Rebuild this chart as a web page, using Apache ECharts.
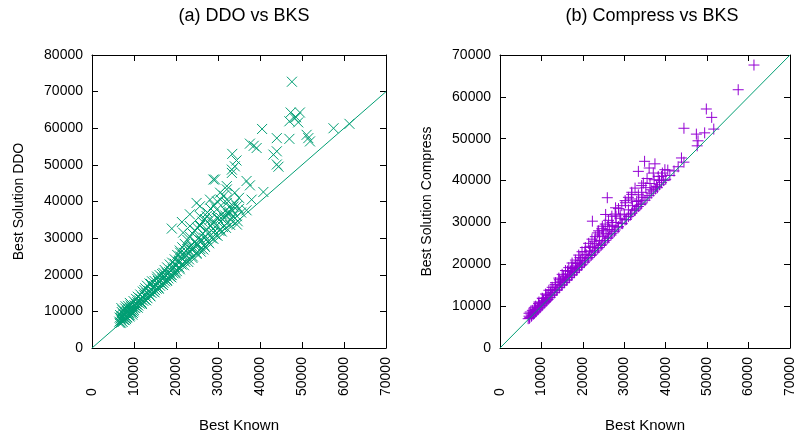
<!DOCTYPE html>
<html>
<head>
<meta charset="utf-8">
<script src="https://cdn.jsdelivr.net/npm/echarts@6/dist/echarts.min.js"></script>
<style>
  html, body { margin: 0; padding: 0; background: #fff; }
  #chart { width: 797px; height: 438px; }
</style>
</head>
<body>
<div id="chart"></div>
<script>
// Best known solution (thousands) vs DDO result (thousands)
const ddoPoints = [
  [6.5,7.2],[6.8,8.0],[7.0,7.5],[7.2,8.6],[7.4,7.8],[7.5,9.2],[7.7,8.3],[7.8,7.6],[8.0,9.6],[8.1,8.7],
  [8.3,10.1],[8.4,8.4],[8.5,9.1],[8.7,10.5],[8.8,9.5],[9.0,8.9],[9.1,10.8],[9.2,9.9],[9.4,11.2],[9.5,10.3],
  [9.7,9.6],[9.8,11.0],[10.0,10.4],[10.1,11.7],[10.3,10.9],[6.9,6.9],[7.6,7.7],[8.2,8.2],[8.9,9.0],[9.6,9.7],
  [10.4,12.1],[10.6,11.2],[10.8,12.5],[11.0,11.6],[11.2,13.0],[11.4,12.1],[11.6,13.5],[11.8,12.4],[12.0,13.9],
  [12.2,12.9],[12.4,14.4],[12.6,13.2],[12.8,14.0],[13.0,15.0],[13.2,13.6],[13.4,14.8],[13.6,15.6],[13.8,14.3],
  [14.0,16.0],[14.2,15.0],[14.4,16.5],[14.6,15.4],[14.8,16.9],[15.0,15.8],[15.2,17.2],[15.4,16.2],[15.6,17.6],
  [15.8,16.5],[16.0,18.0],[16.2,17.0],[16.4,18.4],[16.6,17.4],[16.8,18.8],[17.0,17.8],[17.2,19.3],[17.4,18.2],
  [17.6,19.8],[17.8,18.6],[18.0,20.2],[18.2,19.0],[18.4,20.7],[18.6,19.5],[18.8,21.2],[19.0,19.9],[19.2,21.6],
  [19.4,20.4],[19.6,22.0],[19.8,20.8],[20.0,22.5],[12.5,15.8],[14.0,17.5],[15.5,18.9],[17.0,20.5],
  [20.2,21.0],[20.5,23.5],[20.8,22.0],[21.0,25.0],[21.3,22.8],[21.6,24.2],[21.9,26.0],[22.2,23.5],[22.5,25.3],
  [22.8,27.0],[23.1,24.2],[23.4,26.2],[23.7,28.0],[24.0,25.0],[24.3,27.2],[24.6,29.0],[24.9,26.0],[25.2,28.2],
  [25.5,30.2],[25.8,27.0],[26.1,29.3],[26.4,31.2],[26.7,28.0],[27.0,30.5],[27.3,32.4],[27.6,29.0],[27.9,31.5],
  [28.2,33.5],[28.5,30.0],[28.8,32.5],[29.1,34.5],[29.4,31.0],[29.7,33.5],[30.0,35.5],[30.3,32.0],[30.6,34.5],
  [30.9,36.5],[31.2,33.0],[31.5,35.5],[31.8,37.5],[32.1,34.0],[32.4,36.5],[32.7,38.5],[33.0,35.0],[33.5,37.5],
  [34.0,39.5],[34.5,36.0],[35.0,38.0],[35.5,37.0],
  [6.6,8.3],[6.7,9.0],[7.1,9.8],[7.3,10.3],[7.9,10.8],[8.6,11.5],[9.3,12.0],[7.0,10.9],[8.0,11.4],[9.0,12.3],
  [9.9,12.8],[10.5,13.4],[10.9,14.0],[11.5,14.6],[12.1,15.4],[12.7,16.3],[13.1,17.0],[13.7,17.6],[14.3,18.2],
  [14.9,18.3],[15.5,19.5],[16.1,19.9],[16.7,20.2],[17.3,21.3],[17.9,22.0],[18.5,22.8],[19.1,23.3],[19.7,24.2],
  [20.3,25.4],[20.9,26.6],[21.5,27.5],[22.1,28.4],[22.7,29.5],[23.3,30.4],[23.9,31.3],[24.5,32.1],[25.1,32.8],
  [25.7,33.6],[26.3,34.5],[26.9,35.2],[27.5,37.0],[28.3,38.0],[29.0,39.0],[29.8,40.0],[30.6,40.5],[31.4,41.6],
  [10.9,11.0],[11.9,12.0],[12.9,13.0],[13.9,14.1],[14.9,15.2],[15.9,16.2],[16.9,17.2],[17.9,18.3],[18.9,19.3],
  [19.9,20.4],[20.9,21.5],[21.9,22.6],[22.9,23.5],[23.9,24.6],[24.9,25.7],[25.9,26.3],[26.9,27.6],[27.9,28.6],
  [28.9,29.8],[29.9,30.6],[30.9,31.8],[31.9,32.8],[32.9,33.6],
  [10.7,11.9],[11.7,13.2],[12.7,14.6],[13.7,15.3],[14.7,16.2],[15.7,18.3],[16.7,19.3],[17.7,20.6],[18.7,20.0],
  [19.7,23.0],[20.7,23.8],[21.7,25.3],[22.7,26.1],[23.7,26.9],[24.7,28.5],[25.7,29.4],[26.7,30.1],[27.7,31.2],
  [28.7,33.8],[29.7,35.6],[30.7,35.5],[31.7,36.2],[32.7,37.2],[33.7,38.6],
  [6.6,6.8],[7.0,8.2],[7.3,7.1],[7.8,8.9],[8.1,7.9],[8.6,9.8],[8.9,8.6],[9.3,10.1],[9.6,9.1],[9.9,10.0],
  [7.9,9.8],[8.5,10.8],[9.2,11.6],
  [19.0,32.6],[21.4,34.4],[23.3,36.5],[24.9,39.6],[25.7,38.7],[28.9,46.0],[33.4,53.0],[33.3,48.7],[34.0,49.6],
  [33.3,47.8],[32.1,43.3],[32.1,44.2],[30.5,42.4],[28.1,40.5],[36.8,45.6],[37.6,44.4],[40.8,42.6],[38.0,40.5],
  [36.8,37.6],[34.7,34.6],[34.5,33.7],[27.3,36.0],[25.7,33.3],[29.7,37.8],[32.1,40.5],[34.0,42.4],[34.5,38.7],
  [32.5,36.9],[28.9,31.5],[27.3,29.7],[26.5,26.9],[23.3,27.8],[21.0,26.0],[21.7,31.5],[23.3,33.3],[25.7,36.0],
  [28.1,35.1],[30.5,32.4],[33.6,36.0],[32.1,39.6],[35.0,41.0],[29.3,46.0],[34.4,51.2],
  [47.6,72.7],[47.3,64.3],[48.6,63.0],[49.5,64.3],[47.0,61.9],[49.1,61.6],[48.2,62.8],[40.5,59.8],[44.0,57.3],
  [47.0,57.1],[51.1,58.2],[51.9,56.4],[51.5,57.3],[57.5,60.0],[61.3,61.2],[37.6,55.8],[39.2,54.6],[38.5,55.2],
  [44.0,53.7],[43.2,52.8],[44.4,49.5],[44.0,50.1]
];

// Best known solution (thousands) vs Compress result (thousands)
const compressPoints = [
  [6.8,7.0],[7.0,7.6],[7.2,7.3],[7.5,8.1],[7.7,7.8],[8.0,8.5],[8.2,8.3],[8.5,9.2],[8.7,8.8],[9.0,9.6],
  [9.2,9.3],[9.5,10.2],[9.7,9.8],[10.0,10.8],[10.2,10.3],[10.5,11.3],[10.8,10.9],[11.0,11.9],[11.3,11.4],
  [11.6,12.5],[11.9,12.0],[12.2,13.2],[12.5,12.6],[12.8,13.8],[13.1,13.2],[13.4,14.5],[13.7,13.8],[14.0,15.1],
  [14.3,14.4],[14.6,15.8],[14.9,15.0],[15.2,16.5],[15.5,15.6],[15.8,17.0],[16.1,16.2],[16.4,17.7],[16.7,16.8],
  [17.0,18.3],[17.3,17.4],[17.6,19.0],[17.9,18.0],[18.2,19.6],[18.5,18.6],[18.8,20.2],[19.1,19.2],[19.4,20.9],
  [19.7,19.8],[20.0,21.5],[20.4,20.5],[20.8,22.3],[21.2,21.3],[21.6,23.2],[22.0,22.1],[22.4,24.0],[22.8,22.9],
  [23.2,24.9],[23.6,23.7],[24.0,25.7],[24.4,24.5],[24.8,26.6],[25.2,25.3],[25.6,27.4],[26.0,26.2],[26.4,28.3],
  [26.8,27.0],[27.2,29.3],[27.6,27.8],[28.0,30.0],[28.5,28.7],[29.0,31.0],[29.5,29.7],[30.0,32.0],[30.5,30.7],
  [31.0,33.0],[31.5,31.8],[32.0,34.0],[32.5,32.8],[33.0,33.4],[33.5,35.2],[34.0,34.3],[34.5,36.0],[35.0,35.3],
  [36.0,36.4],[37.0,37.5],[38.0,38.3],[39.0,39.5],[40.0,40.3],[41.0,41.2],
  [7.3,8.6],[8.3,9.6],[9.3,10.6],[10.3,11.8],[11.3,12.7],[12.3,13.9],[13.3,15.2],[14.3,16.3],[15.3,17.2],
  [16.3,18.4],[17.3,19.3],[18.3,20.5],[19.3,21.6],[20.5,23.0],[21.8,24.3],[22.8,25.5],[24.0,27.0],[25.0,28.0],
  [26.0,29.0],[28.0,31.5],
  [7.1,7.1],[7.6,7.6],[8.1,8.1],[8.6,8.6],[9.1,9.1],[9.6,9.6],[10.1,10.1],[10.6,10.6],[11.1,11.1],[11.6,11.6],
  [12.1,12.1],[12.6,12.7],[13.2,13.3],[13.8,13.9],[14.4,14.5],[15.0,15.1],[15.6,15.7],[16.2,16.3],[16.8,16.9],
  [17.4,17.5],[18.0,18.1],[18.6,18.7],[19.2,19.4],[19.8,20.0],[20.6,20.8],[21.4,21.6],[22.2,22.4],[23.0,23.2],
  [23.8,24.0],[24.6,24.8],[25.4,25.7],[26.2,26.5],[27.0,27.4],[27.8,28.2],[28.6,29.0],[29.4,29.8],[30.2,30.6],
  [31.0,31.4],[31.8,32.2],[32.6,33.0],[33.4,33.8],[34.2,34.6],[35.5,35.9],[36.5,37.0],[37.5,38.0],[38.5,39.0],
  [39.5,40.0],[42.0,42.3],[43.0,43.3],
  [7.0,8.3],[7.8,9.0],[8.6,10.0],[9.4,11.0],[10.2,11.9],[11.0,12.9],[11.8,13.8],[12.6,14.5],[13.4,15.6],
  [14.2,16.7],[15.0,17.6],[15.8,18.5],[16.6,19.2],[17.4,20.3],[18.2,21.0],[19.0,22.2],[19.8,23.0],[20.6,24.0],
  [21.4,25.0],[22.2,26.0],[23.0,26.6],[23.8,28.0],[24.6,28.5],[25.4,29.6],[26.2,30.5],[27.0,31.5],[27.8,32.0],
  [28.6,33.3],[29.4,34.0],[30.2,35.2],[31.0,36.0],[31.8,37.2],[32.6,38.2],[33.4,36.6],[34.2,37.2],[35.2,38.3],
  [36.2,39.3],[37.2,40.2],[38.2,41.0],[39.2,41.8],[40.5,42.5],
  [61.3,67.6],[57.5,61.7],[49.8,57.1],[51.1,55.1],[51.6,52.3],[44.4,52.5],[47.4,51.1],[49.4,51.4],[47.6,48.3],
  [47.8,49.5],[43.8,45.4],[44.4,44.4],[34.9,44.6],[37.4,44.0],[33.4,42.2],[37.0,41.8],[39.8,42.6],[39.0,41.0],
  [34.6,39.4],[37.8,38.6],[34.2,38.8],[25.9,35.9],[31.7,35.6],[27.9,33.5],[22.3,30.3],[25.5,31.9],[24.7,29.1],
  [30.3,34.7],[31.8,36.7],[36.0,43.0],[35.5,40.5],[38.5,40.0],[36.5,37.8],[33.0,35.0],[29.0,31.8],[27.0,30.0],
  [23.5,27.5]
];

// Reference diagonal y = x
const diagonal = [[0, 0], [70000, 70000]];

const xTicksMax = 70000;
const ddoYMax = 80000;
const compressYMax = 70000;
const tickStep = 10000;

const GREEN = '#009e73';
const PURPLE = '#9400d3';
const FONT = "'Liberation Sans', Arial, sans-serif";

const toUnits = pts => pts.map(p => [p[0] * 1000, p[1] * 1000]);
const plain = v => String(v);

const CROSS = 'path://M0,0L10,10M10,0L0,10';
const PLUS = 'path://M5,0L5,10M0,5L10,5';

function bottomAxis(grid) {
  return {
    type: 'value', gridIndex: grid, position: 'bottom',
    min: 0, max: xTicksMax, interval: tickStep,
    name: 'Best Known', nameLocation: 'middle', nameGap: 70,
    nameTextStyle: { fontFamily: FONT, fontSize: 15, color: '#000' },
    axisLine: { show: true, onZero: false, lineStyle: { color: '#000', width: 1 } },
    axisTick: { show: true, inside: true, length: 6, lineStyle: { color: '#000' } },
    axisLabel: { rotate: 90, align: 'left', margin: 48, fontFamily: FONT, fontSize: 14, color: '#000', formatter: plain },
    splitLine: { show: false }
  };
}
function topAxis(grid) {
  return {
    type: 'value', gridIndex: grid, position: 'top',
    min: 0, max: xTicksMax, interval: tickStep,
    axisLine: { show: true, onZero: false, lineStyle: { color: '#000', width: 1 } },
    axisTick: { show: true, inside: true, length: 6, lineStyle: { color: '#000' } },
    axisLabel: { show: false },
    splitLine: { show: false }
  };
}
function leftAxis(grid, max, name) {
  return {
    type: 'value', gridIndex: grid, position: 'left',
    min: 0, max: max, interval: tickStep,
    name: name, nameLocation: 'middle', nameGap: 66,
    nameTextStyle: { fontFamily: FONT, fontSize: 14, color: '#000' },
    axisLine: { show: true, onZero: false, lineStyle: { color: '#000', width: 1 } },
    axisTick: { show: true, inside: true, length: 6, lineStyle: { color: '#000' } },
    axisLabel: { margin: 9, fontFamily: FONT, fontSize: 14, color: '#000', formatter: plain },
    splitLine: { show: false }
  };
}
function rightAxis(grid, max) {
  return {
    type: 'value', gridIndex: grid, position: 'right',
    min: 0, max: max, interval: tickStep,
    axisLine: { show: true, onZero: false, lineStyle: { color: '#000', width: 1 } },
    axisTick: { show: true, inside: true, length: 6, lineStyle: { color: '#000' } },
    axisLabel: { show: false },
    splitLine: { show: false }
  };
}

const chart = echarts.init(document.getElementById('chart'), null, { renderer: 'canvas' });

chart.setOption({
  animation: false,
  backgroundColor: '#fff',
  title: [
    { text: '(a) DDO vs BKS', left: 239, top: 2, textAlign: 'center',
      textStyle: { fontFamily: FONT, fontSize: 18, fontWeight: 'normal', color: '#000' } },
    { text: '(b) Compress vs BKS', left: 647, top: 2, textAlign: 'center',
      textStyle: { fontFamily: FONT, fontSize: 18, fontWeight: 'normal', color: '#000' } }
  ],
  grid: [
    { left: 92, top: 55, width: 294, height: 294 },
    { left: 500, top: 55, width: 293, height: 294 }
  ],
  xAxis: [bottomAxis(0), topAxis(0), bottomAxis(1), topAxis(1)],
  yAxis: [
    leftAxis(0, ddoYMax, 'Best Solution DDO'), rightAxis(0, ddoYMax),
    leftAxis(1, compressYMax, 'Best Solution Compress'), rightAxis(1, compressYMax)
  ],
  series: [
    {
      type: 'scatter', xAxisIndex: 0, yAxisIndex: 0,
      data: toUnits(ddoPoints), symbol: CROSS, symbolSize: 10,
      itemStyle: { color: GREEN, borderColor: GREEN, borderWidth: 1, opacity: 1 },
      silent: true, z: 2
    },
    {
      type: 'line', xAxisIndex: 0, yAxisIndex: 0, data: diagonal,
      showSymbol: false, symbol: 'none',
      lineStyle: { color: GREEN, width: 1 }, silent: true, z: 3
    },
    {
      type: 'scatter', xAxisIndex: 2, yAxisIndex: 2,
      data: toUnits(compressPoints), symbol: PLUS, symbolSize: 11,
      itemStyle: { color: PURPLE, borderColor: PURPLE, borderWidth: 1, opacity: 1 },
      silent: true, z: 2
    },
    {
      type: 'line', xAxisIndex: 2, yAxisIndex: 2, data: diagonal,
      showSymbol: false, symbol: 'none',
      lineStyle: { color: GREEN, width: 1 }, silent: true, z: 3
    }
  ]
});
</script>
</body>
</html>
